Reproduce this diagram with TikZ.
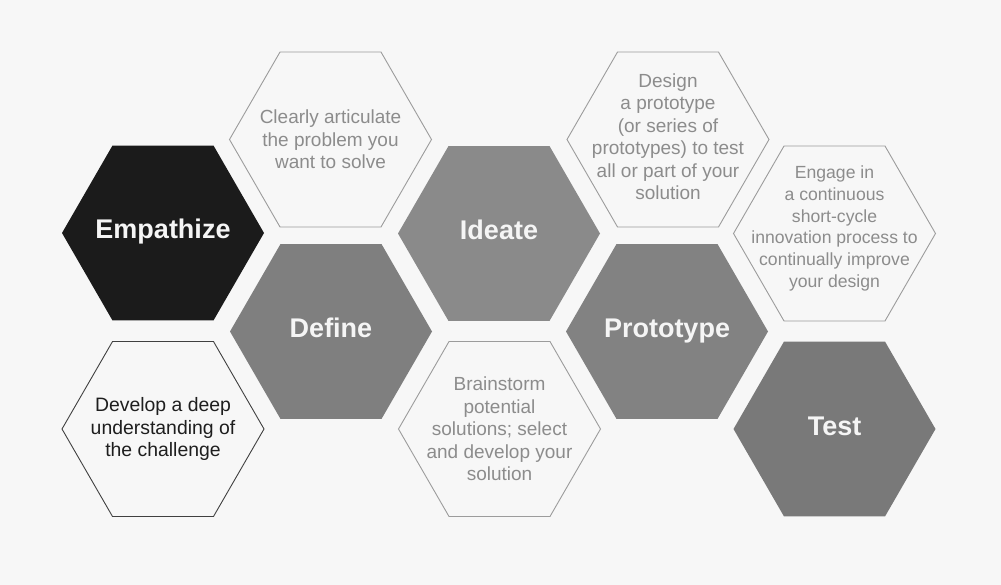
\documentclass[tikz,border=0pt]{standalone}
\usepackage{fontspec}
\setmainfont{Liberation Sans}
\usetikzlibrary{shapes.geometric}

\definecolor{bgcol}{HTML}{F7F7F7}
\definecolor{empcol}{HTML}{1B1B1B}
\definecolor{defcol}{HTML}{7F7F7F}
\definecolor{ideacol}{HTML}{8A8A8A}
\definecolor{protocol}{HTML}{828282}
\definecolor{testcol}{HTML}{797979}
\definecolor{linecol}{HTML}{9C9C9C}
\definecolor{notecol}{HTML}{8C8C8C}
\definecolor{darknote}{HTML}{1E1E1E}

\tikzset{
  x=1pt, y=-1pt,
  hexcell/.style={regular polygon, regular polygon sides=6, minimum size=202pt,
                  inner sep=0pt, outer sep=0pt},
  phase/.style={hexcell, fill=#1, draw=none},
  note/.style={hexcell, fill=bgcol, draw=linecol, line width=0.9pt},
  darkhex/.style={hexcell, fill=bgcol, draw=darknote!85, line width=0.9pt},
  phasetext/.style={anchor=base, text=white!96!black,
                    font=\bfseries\fontsize{27}{31}\selectfont},
  notetext/.style={text=notecol, align=center, font=\fontsize{19}{22.5}\selectfont},
  smallnote/.style={text=notecol, align=center, font=\fontsize{17.6}{21.8}\selectfont},
  darktext/.style={text=darknote, align=center, font=\fontsize{19.4}{22.5}\selectfont},
}

\begin{document}
\begin{tikzpicture}
  \fill[bgcol] (0,0) rectangle (1001,585);
  \useasboundingbox (0,0) rectangle (1001,585);

  % phase cells
  \node[phase=empcol]   (emp)   at (163,233)   {};
  \node[phase=defcol]   (def)   at (331,331.5) {};
  \node[phase=ideacol]  (idea)  at (499,233.5) {};
  \node[phase=protocol] (proto) at (667,331.5) {};
  \node[phase=testcol]  (test)  at (834.5,429) {};

  % description cells
  \node[darkhex] (empnote)   at (163,429)   {};
  \node[note]    (defnote)   at (330.5,139.5) {};
  \node[note]    (ideanote)  at (499.5,429) {};
  \node[note]    (protonote) at (668,139.5) {};
  \node[note]    (testnote)  at (834.5,233.5) {};

  % phase labels, on a common baseline below the cell centres
  \node[phasetext] (empL)   at ([yshift=-6pt]emp.center)   {Empathize};
  \node[phasetext] (defL)   at ([yshift=-6pt]def.center)   {Define};
  \node[phasetext] (ideaL)  at ([yshift=-6pt]idea.center)  {Ideate};
  \node[phasetext] (protoL) at ([yshift=-6pt]proto.center) {Prototype};
  \node[phasetext] (testL)  at ([yshift=-6pt]test.center)  {Test};

  % descriptions
  \node[darktext] (empT) at (empnote) {Develop a deep\\understanding of\\the challenge};
  \node[notetext] (defT) at (defnote) {Clearly articulate\\the problem you\\want to solve};
  \node[notetext] (ideaT) at (ideanote) {Brainstorm\\potential\\solutions; select\\and develop your\\solution};
  \node[notetext] (protoT) at ([yshift=3pt]protonote.center) {Design\\a prototype\\(or series of\\prototypes) to test\\all or part of your\\solution};
  \node[smallnote] (testT) at ([yshift=5pt]testnote.center) {Engage in\\a continuous\\short-cycle\\innovation process to\\continually improve\\your design};
\end{tikzpicture}
\end{document}
